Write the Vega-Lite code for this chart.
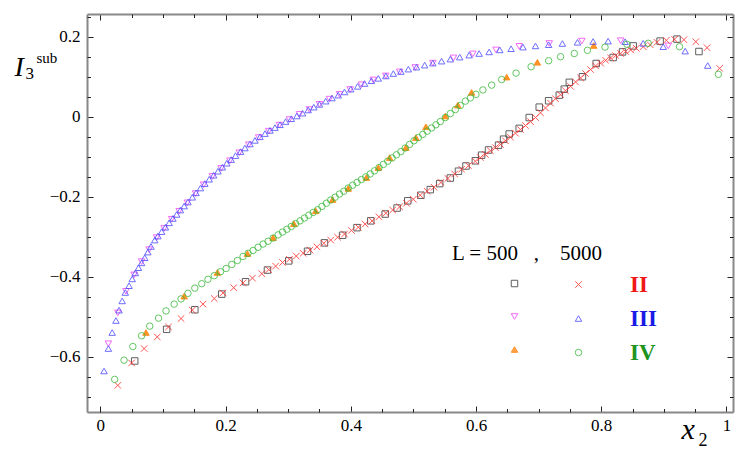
{
  "$schema": "https://vega.github.io/schema/vega-lite/v6.json",
  "width": 646,
  "height": 398,
  "autosize": {"type": "none"},
  "padding": {"left": 87, "top": 14, "right": 15, "bottom": 46},
  "background": "white",
  "config": {
    "font": "Liberation Serif",
    "view": {"stroke": null},
    "axis": {
      "grid": false,
      "labelFont": "Liberation Serif",
      "labelFontSize": 17,
      "labelColor": "#000",
      "tickColor": "#222",
      "tickWidth": 1,
      "domainColor": "#888",
      "domainWidth": 2,
      "titleFont": "Liberation Serif",
      "titleFontWeight": "normal",
      "titleColor": "#000",
      "titleAlign": "left",
      "titleBaseline": "alphabetic",
      "titleAngle": 0
    },
    "legend": {
      "labelFont": "Liberation Serif",
      "titleFont": "Liberation Serif"
    }
  },
  "datasets": {
    "d500": [
      {"m": "II", "x": 0.055, "y": -0.61},
      {"m": "II", "x": 0.106, "y": -0.531},
      {"m": "II", "x": 0.151, "y": -0.482},
      {"m": "II", "x": 0.194, "y": -0.443},
      {"m": "II", "x": 0.232, "y": -0.412},
      {"m": "II", "x": 0.267, "y": -0.383},
      {"m": "II", "x": 0.301, "y": -0.36},
      {"m": "II", "x": 0.331, "y": -0.336},
      {"m": "II", "x": 0.358, "y": -0.315},
      {"m": "II", "x": 0.387, "y": -0.296},
      {"m": "II", "x": 0.41, "y": -0.277},
      {"m": "II", "x": 0.432, "y": -0.26},
      {"m": "II", "x": 0.455, "y": -0.243},
      {"m": "II", "x": 0.474, "y": -0.228},
      {"m": "II", "x": 0.491, "y": -0.21},
      {"m": "II", "x": 0.512, "y": -0.196},
      {"m": "II", "x": 0.527, "y": -0.182},
      {"m": "II", "x": 0.542, "y": -0.167},
      {"m": "II", "x": 0.559, "y": -0.153},
      {"m": "II", "x": 0.572, "y": -0.136},
      {"m": "II", "x": 0.584, "y": -0.123},
      {"m": "II", "x": 0.599, "y": -0.11},
      {"m": "II", "x": 0.609, "y": -0.096},
      {"m": "II", "x": 0.62, "y": -0.083},
      {"m": "II", "x": 0.636, "y": -0.071},
      {"m": "II", "x": 0.644, "y": -0.056},
      {"m": "II", "x": 0.653, "y": -0.043},
      {"m": "II", "x": 0.669, "y": -0.029},
      {"m": "II", "x": 0.685, "y": -0.002},
      {"m": "II", "x": 0.701, "y": 0.024},
      {"m": "II", "x": 0.716, "y": 0.04},
      {"m": "II", "x": 0.733, "y": 0.054},
      {"m": "II", "x": 0.741, "y": 0.069},
      {"m": "II", "x": 0.749, "y": 0.086},
      {"m": "II", "x": 0.77, "y": 0.1},
      {"m": "II", "x": 0.792, "y": 0.133},
      {"m": "II", "x": 0.819, "y": 0.148},
      {"m": "II", "x": 0.834, "y": 0.162},
      {"m": "II", "x": 0.851, "y": 0.177},
      {"m": "II", "x": 0.894, "y": 0.189},
      {"m": "II", "x": 0.921, "y": 0.194},
      {"m": "II", "x": 0.956, "y": 0.163},
      {"m": "III", "x": 0.013, "y": -0.567},
      {"m": "III", "x": 0.028, "y": -0.49},
      {"m": "III", "x": 0.041, "y": -0.436},
      {"m": "III", "x": 0.054, "y": -0.395},
      {"m": "III", "x": 0.066, "y": -0.362},
      {"m": "III", "x": 0.078, "y": -0.332},
      {"m": "III", "x": 0.09, "y": -0.302},
      {"m": "III", "x": 0.102, "y": -0.279},
      {"m": "III", "x": 0.114, "y": -0.256},
      {"m": "III", "x": 0.126, "y": -0.236},
      {"m": "III", "x": 0.139, "y": -0.215},
      {"m": "III", "x": 0.152, "y": -0.192},
      {"m": "III", "x": 0.165, "y": -0.17},
      {"m": "III", "x": 0.179, "y": -0.149},
      {"m": "III", "x": 0.193, "y": -0.129},
      {"m": "III", "x": 0.207, "y": -0.11},
      {"m": "III", "x": 0.222, "y": -0.09},
      {"m": "III", "x": 0.237, "y": -0.07},
      {"m": "III", "x": 0.253, "y": -0.052},
      {"m": "III", "x": 0.269, "y": -0.036},
      {"m": "III", "x": 0.286, "y": -0.021},
      {"m": "III", "x": 0.302, "y": -0.007},
      {"m": "III", "x": 0.318, "y": 0.006},
      {"m": "III", "x": 0.334, "y": 0.018},
      {"m": "III", "x": 0.35, "y": 0.031},
      {"m": "III", "x": 0.366, "y": 0.044},
      {"m": "III", "x": 0.382, "y": 0.056},
      {"m": "III", "x": 0.399, "y": 0.068},
      {"m": "III", "x": 0.417, "y": 0.08},
      {"m": "III", "x": 0.436, "y": 0.092},
      {"m": "III", "x": 0.456, "y": 0.102},
      {"m": "III", "x": 0.478, "y": 0.112},
      {"m": "III", "x": 0.503, "y": 0.123},
      {"m": "III", "x": 0.531, "y": 0.134},
      {"m": "III", "x": 0.564, "y": 0.147},
      {"m": "III", "x": 0.595, "y": 0.157},
      {"m": "III", "x": 0.632, "y": 0.167},
      {"m": "III", "x": 0.669, "y": 0.176},
      {"m": "III", "x": 0.717, "y": 0.183},
      {"m": "III", "x": 0.769, "y": 0.189},
      {"m": "III", "x": 0.831, "y": 0.19},
      {"m": "III", "x": 0.907, "y": 0.177},
      {"m": "IV", "x": 0.073, "y": -0.539},
      {"m": "IV", "x": 0.134, "y": -0.448},
      {"m": "IV", "x": 0.187, "y": -0.389},
      {"m": "IV", "x": 0.235, "y": -0.342},
      {"m": "IV", "x": 0.276, "y": -0.302},
      {"m": "IV", "x": 0.309, "y": -0.267},
      {"m": "IV", "x": 0.344, "y": -0.235},
      {"m": "IV", "x": 0.371, "y": -0.207},
      {"m": "IV", "x": 0.396, "y": -0.179},
      {"m": "IV", "x": 0.425, "y": -0.152},
      {"m": "IV", "x": 0.444, "y": -0.127},
      {"m": "IV", "x": 0.462, "y": -0.102},
      {"m": "IV", "x": 0.488, "y": -0.077},
      {"m": "IV", "x": 0.504, "y": -0.052},
      {"m": "IV", "x": 0.52, "y": -0.025},
      {"m": "IV", "x": 0.551, "y": 0.002},
      {"m": "IV", "x": 0.571, "y": 0.029},
      {"m": "IV", "x": 0.593, "y": 0.061},
      {"m": "IV", "x": 0.649, "y": 0.099},
      {"m": "IV", "x": 0.698, "y": 0.136},
      {"m": "IV", "x": 0.788, "y": 0.178}
    ],
    "d5000": [
      {"m": "II", "x": 0.028, "y": -0.671},
      {"m": "II", "x": 0.05, "y": -0.615},
      {"m": "II", "x": 0.07, "y": -0.579},
      {"m": "II", "x": 0.091, "y": -0.55},
      {"m": "II", "x": 0.109, "y": -0.525},
      {"m": "II", "x": 0.129, "y": -0.504},
      {"m": "II", "x": 0.147, "y": -0.483},
      {"m": "II", "x": 0.164, "y": -0.468},
      {"m": "II", "x": 0.182, "y": -0.454},
      {"m": "II", "x": 0.196, "y": -0.44},
      {"m": "II", "x": 0.213, "y": -0.427},
      {"m": "II", "x": 0.228, "y": -0.415},
      {"m": "II", "x": 0.243, "y": -0.403},
      {"m": "II", "x": 0.258, "y": -0.392},
      {"m": "II", "x": 0.269, "y": -0.382},
      {"m": "II", "x": 0.28, "y": -0.373},
      {"m": "II", "x": 0.291, "y": -0.364},
      {"m": "II", "x": 0.302, "y": -0.356},
      {"m": "II", "x": 0.313, "y": -0.348},
      {"m": "II", "x": 0.324, "y": -0.341},
      {"m": "II", "x": 0.335, "y": -0.333},
      {"m": "II", "x": 0.346, "y": -0.325},
      {"m": "II", "x": 0.357, "y": -0.316},
      {"m": "II", "x": 0.368, "y": -0.308},
      {"m": "II", "x": 0.379, "y": -0.301},
      {"m": "II", "x": 0.39, "y": -0.293},
      {"m": "II", "x": 0.401, "y": -0.284},
      {"m": "II", "x": 0.412, "y": -0.276},
      {"m": "II", "x": 0.423, "y": -0.268},
      {"m": "II", "x": 0.434, "y": -0.26},
      {"m": "II", "x": 0.445, "y": -0.25},
      {"m": "II", "x": 0.456, "y": -0.241},
      {"m": "II", "x": 0.467, "y": -0.233},
      {"m": "II", "x": 0.478, "y": -0.225},
      {"m": "II", "x": 0.489, "y": -0.216},
      {"m": "II", "x": 0.5, "y": -0.206},
      {"m": "II", "x": 0.511, "y": -0.196},
      {"m": "II", "x": 0.522, "y": -0.186},
      {"m": "II", "x": 0.533, "y": -0.176},
      {"m": "II", "x": 0.544, "y": -0.164},
      {"m": "II", "x": 0.555, "y": -0.154},
      {"m": "II", "x": 0.566, "y": -0.143},
      {"m": "II", "x": 0.577, "y": -0.131},
      {"m": "II", "x": 0.588, "y": -0.122},
      {"m": "II", "x": 0.599, "y": -0.111},
      {"m": "II", "x": 0.607, "y": -0.102},
      {"m": "II", "x": 0.615, "y": -0.094},
      {"m": "II", "x": 0.623, "y": -0.085},
      {"m": "II", "x": 0.631, "y": -0.077},
      {"m": "II", "x": 0.639, "y": -0.069},
      {"m": "II", "x": 0.647, "y": -0.06},
      {"m": "II", "x": 0.655, "y": -0.051},
      {"m": "II", "x": 0.663, "y": -0.041},
      {"m": "II", "x": 0.671, "y": -0.032},
      {"m": "II", "x": 0.679, "y": -0.022},
      {"m": "II", "x": 0.687, "y": -0.012},
      {"m": "II", "x": 0.695, "y": -0.002},
      {"m": "II", "x": 0.703, "y": 0.01},
      {"m": "II", "x": 0.711, "y": 0.022},
      {"m": "II", "x": 0.719, "y": 0.034},
      {"m": "II", "x": 0.727, "y": 0.045},
      {"m": "II", "x": 0.735, "y": 0.055},
      {"m": "II", "x": 0.743, "y": 0.065},
      {"m": "II", "x": 0.751, "y": 0.076},
      {"m": "II", "x": 0.759, "y": 0.087},
      {"m": "II", "x": 0.767, "y": 0.097},
      {"m": "II", "x": 0.775, "y": 0.108},
      {"m": "II", "x": 0.783, "y": 0.118},
      {"m": "II", "x": 0.791, "y": 0.127},
      {"m": "II", "x": 0.799, "y": 0.134},
      {"m": "II", "x": 0.807, "y": 0.141},
      {"m": "II", "x": 0.815, "y": 0.147},
      {"m": "II", "x": 0.823, "y": 0.153},
      {"m": "II", "x": 0.831, "y": 0.158},
      {"m": "II", "x": 0.839, "y": 0.163},
      {"m": "II", "x": 0.847, "y": 0.167},
      {"m": "II", "x": 0.856, "y": 0.171},
      {"m": "II", "x": 0.867, "y": 0.175},
      {"m": "II", "x": 0.878, "y": 0.18},
      {"m": "II", "x": 0.889, "y": 0.186},
      {"m": "II", "x": 0.904, "y": 0.191},
      {"m": "II", "x": 0.917, "y": 0.1935},
      {"m": "II", "x": 0.932, "y": 0.1925},
      {"m": "II", "x": 0.951, "y": 0.1875},
      {"m": "II", "x": 0.969, "y": 0.1725},
      {"m": "II", "x": 0.989, "y": 0.121},
      {"m": "III", "x": 0.006, "y": -0.635},
      {"m": "III", "x": 0.013, "y": -0.579},
      {"m": "III", "x": 0.019, "y": -0.539},
      {"m": "III", "x": 0.025, "y": -0.509},
      {"m": "III", "x": 0.03, "y": -0.483},
      {"m": "III", "x": 0.035, "y": -0.46},
      {"m": "III", "x": 0.04, "y": -0.439},
      {"m": "III", "x": 0.046, "y": -0.422},
      {"m": "III", "x": 0.051, "y": -0.405},
      {"m": "III", "x": 0.056, "y": -0.39},
      {"m": "III", "x": 0.061, "y": -0.377},
      {"m": "III", "x": 0.066, "y": -0.365},
      {"m": "III", "x": 0.071, "y": -0.352},
      {"m": "III", "x": 0.076, "y": -0.338},
      {"m": "III", "x": 0.081, "y": -0.324},
      {"m": "III", "x": 0.087, "y": -0.308},
      {"m": "III", "x": 0.092, "y": -0.298},
      {"m": "III", "x": 0.098, "y": -0.287},
      {"m": "III", "x": 0.104, "y": -0.276},
      {"m": "III", "x": 0.11, "y": -0.265},
      {"m": "III", "x": 0.116, "y": -0.254},
      {"m": "III", "x": 0.122, "y": -0.244},
      {"m": "III", "x": 0.128, "y": -0.233},
      {"m": "III", "x": 0.134, "y": -0.223},
      {"m": "III", "x": 0.14, "y": -0.213},
      {"m": "III", "x": 0.147, "y": -0.201},
      {"m": "III", "x": 0.153, "y": -0.19},
      {"m": "III", "x": 0.16, "y": -0.178},
      {"m": "III", "x": 0.167, "y": -0.167},
      {"m": "III", "x": 0.174, "y": -0.156},
      {"m": "III", "x": 0.181, "y": -0.146},
      {"m": "III", "x": 0.188, "y": -0.136},
      {"m": "III", "x": 0.195, "y": -0.126},
      {"m": "III", "x": 0.202, "y": -0.116},
      {"m": "III", "x": 0.209, "y": -0.107},
      {"m": "III", "x": 0.216, "y": -0.097},
      {"m": "III", "x": 0.224, "y": -0.087},
      {"m": "III", "x": 0.231, "y": -0.078},
      {"m": "III", "x": 0.239, "y": -0.068},
      {"m": "III", "x": 0.247, "y": -0.059},
      {"m": "III", "x": 0.255, "y": -0.05},
      {"m": "III", "x": 0.263, "y": -0.042},
      {"m": "III", "x": 0.271, "y": -0.034},
      {"m": "III", "x": 0.279, "y": -0.027},
      {"m": "III", "x": 0.287, "y": -0.02},
      {"m": "III", "x": 0.296, "y": -0.012},
      {"m": "III", "x": 0.305, "y": -0.005},
      {"m": "III", "x": 0.314, "y": 0.002},
      {"m": "III", "x": 0.323, "y": 0.009},
      {"m": "III", "x": 0.332, "y": 0.017},
      {"m": "III", "x": 0.341, "y": 0.024},
      {"m": "III", "x": 0.35, "y": 0.031},
      {"m": "III", "x": 0.36, "y": 0.039},
      {"m": "III", "x": 0.37, "y": 0.047},
      {"m": "III", "x": 0.38, "y": 0.054},
      {"m": "III", "x": 0.39, "y": 0.062},
      {"m": "III", "x": 0.4, "y": 0.069},
      {"m": "III", "x": 0.411, "y": 0.076},
      {"m": "III", "x": 0.422, "y": 0.083},
      {"m": "III", "x": 0.433, "y": 0.09},
      {"m": "III", "x": 0.444, "y": 0.096},
      {"m": "III", "x": 0.456, "y": 0.102},
      {"m": "III", "x": 0.468, "y": 0.108},
      {"m": "III", "x": 0.48, "y": 0.113},
      {"m": "III", "x": 0.492, "y": 0.119},
      {"m": "III", "x": 0.505, "y": 0.124},
      {"m": "III", "x": 0.518, "y": 0.129},
      {"m": "III", "x": 0.531, "y": 0.134},
      {"m": "III", "x": 0.545, "y": 0.139},
      {"m": "III", "x": 0.559, "y": 0.144},
      {"m": "III", "x": 0.574, "y": 0.149},
      {"m": "III", "x": 0.589, "y": 0.154},
      {"m": "III", "x": 0.605, "y": 0.158},
      {"m": "III", "x": 0.621, "y": 0.162},
      {"m": "III", "x": 0.638, "y": 0.167},
      {"m": "III", "x": 0.656, "y": 0.17},
      {"m": "III", "x": 0.675, "y": 0.174},
      {"m": "III", "x": 0.695, "y": 0.177},
      {"m": "III", "x": 0.716, "y": 0.18},
      {"m": "III", "x": 0.738, "y": 0.183},
      {"m": "III", "x": 0.762, "y": 0.186},
      {"m": "III", "x": 0.787, "y": 0.188},
      {"m": "III", "x": 0.811, "y": 0.189},
      {"m": "III", "x": 0.838, "y": 0.1875},
      {"m": "III", "x": 0.867, "y": 0.1835},
      {"m": "III", "x": 0.899, "y": 0.175},
      {"m": "III", "x": 0.934, "y": 0.164},
      {"m": "III", "x": 0.97, "y": 0.128},
      {"m": "IV", "x": 0.023, "y": -0.656},
      {"m": "IV", "x": 0.038, "y": -0.608},
      {"m": "IV", "x": 0.052, "y": -0.574},
      {"m": "IV", "x": 0.066, "y": -0.547},
      {"m": "IV", "x": 0.079, "y": -0.523},
      {"m": "IV", "x": 0.093, "y": -0.503},
      {"m": "IV", "x": 0.105, "y": -0.485},
      {"m": "IV", "x": 0.118, "y": -0.468},
      {"m": "IV", "x": 0.129, "y": -0.455},
      {"m": "IV", "x": 0.14, "y": -0.441},
      {"m": "IV", "x": 0.151, "y": -0.428},
      {"m": "IV", "x": 0.162, "y": -0.417},
      {"m": "IV", "x": 0.172, "y": -0.406},
      {"m": "IV", "x": 0.182, "y": -0.397},
      {"m": "IV", "x": 0.192, "y": -0.387},
      {"m": "IV", "x": 0.201, "y": -0.379},
      {"m": "IV", "x": 0.21, "y": -0.369},
      {"m": "IV", "x": 0.219, "y": -0.359},
      {"m": "IV", "x": 0.228, "y": -0.349},
      {"m": "IV", "x": 0.236, "y": -0.341},
      {"m": "IV", "x": 0.244, "y": -0.334},
      {"m": "IV", "x": 0.252, "y": -0.326},
      {"m": "IV", "x": 0.26, "y": -0.318},
      {"m": "IV", "x": 0.268, "y": -0.311},
      {"m": "IV", "x": 0.276, "y": -0.303},
      {"m": "IV", "x": 0.284, "y": -0.295},
      {"m": "IV", "x": 0.291, "y": -0.288},
      {"m": "IV", "x": 0.298, "y": -0.281},
      {"m": "IV", "x": 0.305, "y": -0.274},
      {"m": "IV", "x": 0.312, "y": -0.267},
      {"m": "IV", "x": 0.319, "y": -0.26},
      {"m": "IV", "x": 0.326, "y": -0.253},
      {"m": "IV", "x": 0.333, "y": -0.246},
      {"m": "IV", "x": 0.34, "y": -0.239},
      {"m": "IV", "x": 0.347, "y": -0.232},
      {"m": "IV", "x": 0.354, "y": -0.224},
      {"m": "IV", "x": 0.361, "y": -0.216},
      {"m": "IV", "x": 0.368, "y": -0.208},
      {"m": "IV", "x": 0.375, "y": -0.201},
      {"m": "IV", "x": 0.382, "y": -0.193},
      {"m": "IV", "x": 0.389, "y": -0.186},
      {"m": "IV", "x": 0.396, "y": -0.178},
      {"m": "IV", "x": 0.403, "y": -0.171},
      {"m": "IV", "x": 0.41, "y": -0.164},
      {"m": "IV", "x": 0.417, "y": -0.157},
      {"m": "IV", "x": 0.424, "y": -0.15},
      {"m": "IV", "x": 0.431, "y": -0.143},
      {"m": "IV", "x": 0.438, "y": -0.135},
      {"m": "IV", "x": 0.445, "y": -0.127},
      {"m": "IV", "x": 0.452, "y": -0.119},
      {"m": "IV", "x": 0.459, "y": -0.111},
      {"m": "IV", "x": 0.466, "y": -0.103},
      {"m": "IV", "x": 0.473, "y": -0.095},
      {"m": "IV", "x": 0.48, "y": -0.087},
      {"m": "IV", "x": 0.487, "y": -0.078},
      {"m": "IV", "x": 0.494, "y": -0.069},
      {"m": "IV", "x": 0.501, "y": -0.06},
      {"m": "IV", "x": 0.508, "y": -0.052},
      {"m": "IV", "x": 0.515, "y": -0.044},
      {"m": "IV", "x": 0.522, "y": -0.036},
      {"m": "IV", "x": 0.529, "y": -0.028},
      {"m": "IV", "x": 0.536, "y": -0.02},
      {"m": "IV", "x": 0.543, "y": -0.012},
      {"m": "IV", "x": 0.551, "y": -0.002},
      {"m": "IV", "x": 0.559, "y": 0.008},
      {"m": "IV", "x": 0.567, "y": 0.018},
      {"m": "IV", "x": 0.575, "y": 0.028},
      {"m": "IV", "x": 0.583, "y": 0.039},
      {"m": "IV", "x": 0.591, "y": 0.047},
      {"m": "IV", "x": 0.6, "y": 0.056},
      {"m": "IV", "x": 0.611, "y": 0.067},
      {"m": "IV", "x": 0.625, "y": 0.079},
      {"m": "IV", "x": 0.641, "y": 0.093},
      {"m": "IV", "x": 0.664, "y": 0.109},
      {"m": "IV", "x": 0.688, "y": 0.125},
      {"m": "IV", "x": 0.716, "y": 0.14},
      {"m": "IV", "x": 0.735, "y": 0.15},
      {"m": "IV", "x": 0.757, "y": 0.158},
      {"m": "IV", "x": 0.778, "y": 0.166},
      {"m": "IV", "x": 0.806, "y": 0.174},
      {"m": "IV", "x": 0.841, "y": 0.181},
      {"m": "IV", "x": 0.875, "y": 0.1835},
      {"m": "IV", "x": 0.925, "y": 0.175},
      {"m": "IV", "x": 0.987, "y": 0.106}
    ]
  },
  "resolve": {
    "scale": {"stroke": "independent", "fill": "independent", "shape": "independent"},
    "axis": {"x": "independent", "y": "independent"}
  },
  "layer": [
    {
      "data": {"name": "d500"},
      "mark": {"type": "point", "filled": false, "size": 42, "strokeWidth": 1, "opacity": 0.85},
      "encoding": {
        "x": {
          "field": "x", "type": "quantitative",
          "scale": {"domain": [-0.0212, 1.0104], "nice": false, "zero": false},
          "axis": {
            "orient": "bottom", "values": [0, 0.2, 0.4, 0.6, 0.8, 1], "format": "~g",
            "tickSize": -6, "labelPadding": 11,
            "title": "x", "titleFontStyle": "italic", "titleFontSize": 30, "titleX": 594, "titleY": 26
          }
        },
        "y": {
          "field": "y", "type": "quantitative",
          "scale": {"domain": [-0.7375, 0.2567], "nice": false, "zero": false},
          "axis": {
            "orient": "left", "values": [-0.6, -0.4, -0.2, 0, 0.2], "format": "~g",
            "tickSize": -6, "labelPadding": 13,
            "title": "I", "titleFontStyle": "italic", "titleFontSize": 28, "titleX": -73, "titleY": 61
          }
        },
        "shape": {
          "field": "m", "type": "nominal",
          "scale": {"domain": ["II", "III", "IV"], "range": ["square", "triangle-down", "triangle-up"]},
          "legend": {
            "orient": "none", "legendX": 365, "legendY": 229, "padding": 0,
            "title": "L = 500\u00a0\u00a0\u00a0,\u00a0\u00a0\u00a0\u00a05000", "titleFontSize": 21, "titleFontWeight": "normal", "titleColor": "#000", "titlePadding": 9,
            "symbolOffset": 52, "symbolSize": 42, "symbolStrokeWidth": 1,
            "labelOpacity": 0, "labelFontSize": 21, "rowPadding": 11
          }
        },
        "stroke": {
          "field": "m", "type": "nominal",
          "scale": {"domain": ["II", "III", "IV"], "range": ["#444444", "#f050f5", "#ff8000"]}
        },
        "fill": {
          "field": "m", "type": "nominal",
          "scale": {"domain": ["II", "III", "IV"], "range": ["transparent", "transparent", "#ff8000"]}
        }
      }
    },
    {
      "data": {"name": "d5000"},
      "mark": {"type": "point", "filled": false, "size": 42, "strokeWidth": 1, "opacity": 0.8},
      "encoding": {
        "x": {
          "field": "x", "type": "quantitative",
          "axis": {
            "orient": "bottom", "values": [0, 0.05, 0.1, 0.15, 0.25, 0.3, 0.35, 0.45, 0.5, 0.55, 0.65, 0.7, 0.75, 0.85, 0.9, 0.95],
            "tickSize": -3.5, "labels": false, "domain": false,
            "title": "2", "titleFontSize": 18, "titleX": 611, "titleY": 33
          }
        },
        "y": {
          "field": "y", "type": "quantitative",
          "axis": {
            "orient": "left", "values": [-0.7, -0.65, -0.55, -0.5, -0.45, -0.35, -0.3, -0.25, -0.15, -0.1, -0.05, 0.05, 0.1, 0.15, 0.25],
            "tickSize": -3.5, "labels": false, "domain": false,
            "title": "3", "titleFontSize": 17, "titleX": -62, "titleY": 64
          }
        },
        "shape": {
          "field": "m", "type": "nominal",
          "scale": {"domain": ["II", "III", "IV"], "range": ["M-1,-1L1,1M-1,1L1,-1", "triangle-up", "circle"]},
          "legend": {
            "orient": "none", "legendX": 480, "legendY": 259, "padding": 0, "title": null,
            "symbolSize": 42, "symbolStrokeWidth": 1,
            "labelFontSize": 23, "labelFontWeight": "bold", "labelOffset": 40, "rowPadding": 10,
            "labelColor": {"expr": "datum.value === 'II' ? '#f01818' : datum.value === 'III' ? '#1a1ae6' : '#1f941f'"}
          }
        },
        "stroke": {
          "field": "m", "type": "nominal",
          "scale": {"domain": ["II", "III", "IV"], "range": ["#ff2a2a", "#4a4aff", "#3cba3c"]}
        }
      }
    },
    {
      "data": {"name": "d500"},
      "mark": {"type": "point", "opacity": 0},
      "encoding": {
        "x": {
          "field": "x", "type": "quantitative",
          "axis": {
            "orient": "top", "values": [0, 0.2, 0.4, 0.6, 0.8, 1], "tickSize": -6, "labels": false,
            "title": "sub", "titleFontSize": 15, "titleX": -51, "titleY": 48
          }
        },
        "y": {
          "field": "y", "type": "quantitative",
          "axis": {"orient": "right", "values": [-0.6, -0.4, -0.2, 0, 0.2], "tickSize": -6, "labels": false, "title": null}
        }
      }
    },
    {
      "data": {"name": "d500"},
      "mark": {"type": "point", "opacity": 0},
      "encoding": {
        "x": {
          "field": "x", "type": "quantitative",
          "axis": {
            "orient": "top", "values": [0.05, 0.1, 0.15, 0.25, 0.3, 0.35, 0.45, 0.5, 0.55, 0.65, 0.7, 0.75, 0.85, 0.9, 0.95],
            "tickSize": -3.5, "labels": false, "domain": false, "title": null
          }
        },
        "y": {
          "field": "y", "type": "quantitative",
          "axis": {
            "orient": "right", "values": [-0.7, -0.65, -0.55, -0.5, -0.45, -0.35, -0.3, -0.25, -0.15, -0.1, -0.05, 0.05, 0.1, 0.15, 0.25],
            "tickSize": -3.5, "labels": false, "domain": false, "title": null
          }
        }
      }
    }
  ]
}
